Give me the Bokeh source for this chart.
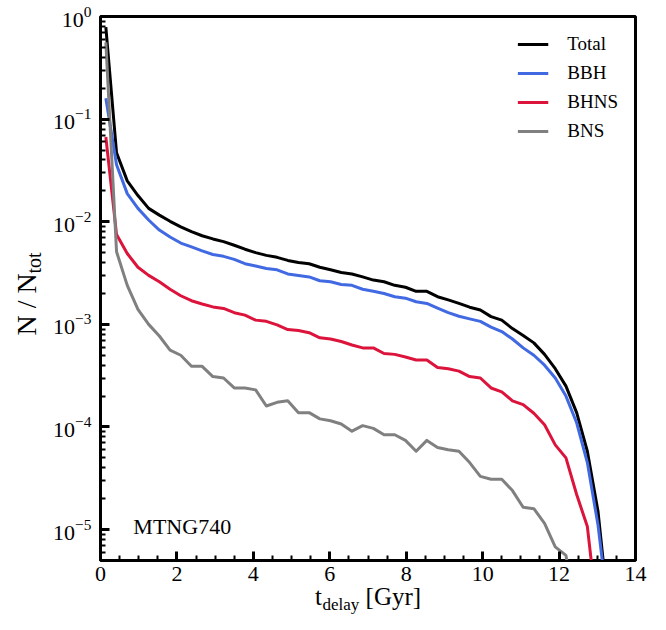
import numpy as np
from bokeh.plotting import figure
from bokeh.models import Range1d, Label, Title
from bokeh.embed import file_html
from bokeh.resources import INLINE

# ---------------- data ----------------
t_delay = [0.14, 0.42, 0.70, 0.98, 1.26, 1.54, 1.82, 2.10, 2.38, 2.66, 2.94, 3.22,
           3.50, 3.78, 4.06, 4.34, 4.62, 4.90, 5.18, 5.46, 5.74, 6.02, 6.30, 6.58,
           6.86, 7.14, 7.42, 7.70, 7.98, 8.26, 8.54, 8.82, 9.10, 9.38, 9.66, 9.94,
           10.22, 10.50, 10.78, 11.06, 11.34, 11.62, 11.90, 12.18, 12.46, 12.74,
           13.02, 13.30]
total = [0.79, 0.047, 0.025, 0.018, 0.0135, 0.0116, 0.0101, 0.0089, 0.0080, 0.0073,
         0.0068, 0.0064, 0.0059, 0.0054, 0.0050, 0.0047, 0.0045, 0.0042, 0.0040,
         0.0039, 0.0036, 0.0034, 0.0032, 0.0031, 0.0029, 0.0027, 0.0026, 0.0024,
         0.0023, 0.0021, 0.0021, 0.00186, 0.00173, 0.0016, 0.00147, 0.00138,
         0.00119, 0.0011, 0.00091, 0.00078, 0.00066, 0.00051, 0.00037, 0.00025,
         0.000138, 5.8e-5, 1.5e-5, 1.5e-6]
bbh = [0.16, 0.036, 0.0188, 0.0135, 0.0104, 0.0083, 0.0071, 0.0062, 0.0057, 0.0052,
       0.0048, 0.0046, 0.0043, 0.0039, 0.0037, 0.0035, 0.0034, 0.0031, 0.0030,
       0.0029, 0.00266, 0.0026, 0.00245, 0.0024, 0.0022, 0.0021, 0.0020, 0.00186,
       0.0018, 0.00166, 0.0016, 0.00144, 0.0013, 0.0012, 0.00113, 0.00107,
       0.00094, 0.00085, 0.00072, 0.00059, 0.0005, 0.0004, 0.0003, 0.0002,
       0.00011, 4.5e-5, 1.1e-5, 1.5e-6]
bhns = [0.067, 0.0075, 0.0049, 0.0036, 0.0030, 0.0026, 0.0022, 0.0019, 0.0017,
        0.00158, 0.00148, 0.00143, 0.0013, 0.00123, 0.0011, 0.00107, 0.00099,
        0.00089, 0.00087, 0.00083, 0.00074, 0.00072, 0.00068, 0.00063, 0.00059,
        0.00059, 0.00052, 0.00051, 0.00048, 0.00045, 0.00045, 0.00038, 0.00037,
        0.00035, 0.00031, 0.0003, 0.00024, 0.00022, 0.00018, 0.000165, 0.000136,
        0.000105, 6.7e-5, 5e-5, 2.2e-5, 1.07e-5, 1.3e-6]
bns = [0.56, 0.0051, 0.0024, 0.0014, 0.0010, 0.00077, 0.00056, 0.0005, 0.00039,
       0.00039, 0.00031, 0.0003, 0.00024, 0.00024, 0.00023, 0.00016, 0.000174,
       0.00018, 0.000138, 0.000138, 0.00012, 0.000115, 0.000107, 0.000091,
       0.000103, 0.000097, 0.000084, 0.000084, 7.4e-5, 5.8e-5, 7.4e-5, 6.3e-5,
       6.0e-5, 5.8e-5, 4.5e-5, 3.3e-5, 3.1e-5, 3.1e-5, 2.4e-5, 1.65e-5, 1.6e-5,
       1.15e-5, 6.8e-6, 5.6e-6, 1.5e-6]

series_names = ["Total", "BBH", "BHNS", "BNS"]
series_colors = ["black", "royalblue", "crimson", "gray"]
FONT = "Liberation Serif"
NB = "\u00a0"

# ---------------- figure ----------------
p = figure(width=666, height=630, y_axis_type="log",
           x_range=Range1d(0, 14), y_range=Range1d(5e-6, 1.0),
           output_backend="svg", toolbar_location=None,
           min_border_left=100, min_border_right=31,
           min_border_top=16, min_border_bottom=70)
p.grid.visible = False
p.background_fill_color = None
p.border_fill_color = None
p.outline_line_color = "black"
p.outline_line_width = 3

for ys, name, col in zip([total, bbh, bhns, bns], series_names, series_colors):
    p.line(t_delay[:len(ys)], ys, line_color=col, line_width=3, line_join="round",
           legend_label=name)

def style_ticks(ax):
    ax.major_tick_in = 9
    ax.major_tick_out = 0
    ax.minor_tick_in = 5
    ax.minor_tick_out = 0
    ax.major_tick_line_width = 3
    ax.minor_tick_line_width = 2

xa = p.xaxis[0]
xa.ticker.num_minor_ticks = 4
style_ticks(xa)
xa.major_label_text_font = FONT
xa.major_label_text_font_size = "22px"
xa.major_label_text_color = "black"
xa.major_label_standoff = 6

ya = p.yaxis[0]
style_ticks(ya)
ya.major_label_text_font = FONT
ya.major_label_text_font_size = "22px"
ya.major_label_text_color = "black"
ya.major_label_standoff = 9

# ---------------- axis labels as titles in the side panels ----------------
def ttl(text, size, align, offset, standoff, valign):
    return Title(text=text, text_font=FONT, text_font_size=size,
                 text_font_style="normal", text_color="black",
                 align=align, offset=offset, standoff=standoff,
                 vertical_align=valign)

p.add_layout(ttl("t" + NB * 7 + "[Gyr]", "25px", "center", 0, -1, "top"), "below")
p.add_layout(ttl("delay", "17px", "left", 222, -34, "top"), "below")
p.add_layout(ttl("tot", "20px", "left", 287, 11, "bottom"), "left")
p.add_layout(ttl("N / N", "28px", "left", 225, -53, "bottom"), "left")

p.add_layout(Label(x=0.86, y=1.07e-5, text="MTNG740", text_font=FONT,
                   text_font_size="22px", text_color="black",
                   text_align="left", text_baseline="alphabetic"))

# ---------------- legend ----------------
lg = p.legend[0]
lg.location = "top_right"
lg.border_line_color = None
lg.background_fill_alpha = 0
lg.label_text_font = FONT
lg.label_text_font_size = "19px"
lg.label_text_color = "black"
lg.glyph_width = 31
lg.glyph_height = 20
lg.label_standoff = 19
lg.spacing = 7
lg.padding = 16
lg.margin = 17

open("out.html", "w").write(file_html(p, INLINE))
